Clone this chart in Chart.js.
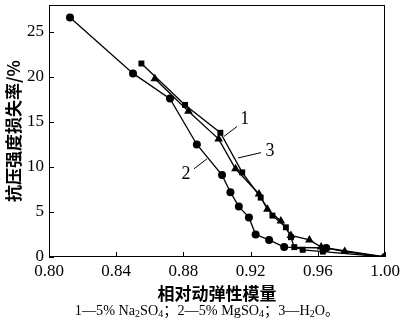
<!DOCTYPE html>
<html>
<head>
<meta charset="utf-8">
<script src="https://cdn.jsdelivr.net/npm/chart.js@4.4.1/dist/chart.umd.min.js"></script>
<style>
  html, body { margin: 0; padding: 0; background: #fff; }
  #wrap { position: relative; width: 400px; height: 327px; }
  #caption {
    position: absolute; left: 7px; top: 299px; width: 400px; text-align: center;
    font-family: "Liberation Serif", "Noto Sans CJK SC", serif; font-size: 14.2px; color: #000;
  }
  #caption sub { font-size: 10px; vertical-align: -2px; line-height: 0; }
</style>
</head>
<body>
<div id="wrap">
  <canvas id="grafico" width="400" height="327"></canvas>
  <div id="caption">1—5% Na<sub>2</sub>SO<sub>4</sub>；2—5% MgSO<sub>4</sub>；3—H<sub>2</sub>O。</div>
</div>
<script>
// datos
const xTicks = [0.80, 0.84, 0.88, 0.92, 0.96, 1.00];
const yTicks = [0, 5, 10, 15, 20, 25];

// 1 - 5% Na2SO4 (cuadrados)
const naX = [0.855, 0.881, 0.902, 0.915, 0.926, 0.933, 0.941, 0.944, 0.946, 0.951, 0.963, 1.000];
const naY = [21.5, 16.9, 13.8, 9.4, 6.6, 4.6, 3.3, 2.2, 1.1, 0.8, 0.6, 0];

// 2 - 5% MgSO4 (circulos)
const mgX = [0.8125, 0.850, 0.872, 0.888, 0.903, 0.908, 0.913, 0.919, 0.923, 0.931, 0.940, 0.965, 1.000];
const mgY = [26.6, 20.4, 17.6, 12.5, 9.1, 7.2, 5.6, 4.4, 2.5, 1.9, 1.1, 1.0, 0];

// 3 - H2O (triangulos)
const aguaX = [0.863, 0.883, 0.901, 0.911, 0.925, 0.930, 0.938, 0.944, 0.955, 0.962, 0.976, 1.000];
const aguaY = [19.8, 16.2, 13.1, 9.8, 7.0, 5.3, 4.0, 2.4, 1.9, 1.1, 0.6, 0];

const puntos = (xs, ys) => xs.map((x, i) => ({ x: x, y: ys[i] }));

// etiquetas 1/2/3 con linea guia (coordenadas en unidades de datos)
const etiquetas = [
    { text: '1', at: [0.9165, 15.3], from: [0.9042, 13.4], to: [0.9119, 14.5] },
    { text: '3', at: [0.9315, 11.8], from: [0.9125, 11.0], to: [0.9262, 11.6] },
    { text: '2', at: [0.8815, 9.2], from: [0.8863, 9.8], to: [0.8940, 10.9] }
];

const serif = '"Liberation Serif", "Times New Roman", serif';
const cjk = '"Noto Sans CJK SC", sans-serif';

const marcoPlugin = {
    id: 'marco',
    afterDraw(chart) {
        const ctx = chart.ctx;
        const a = chart.chartArea;
        const sx = chart.scales.x, sy = chart.scales.y;
        ctx.save();
        ctx.strokeStyle = '#000';
        ctx.lineWidth = 1;
        ctx.strokeRect(a.left + 0.5, a.top + 0.5, a.right - a.left - 1, a.bottom - a.top - 1);
        // marcas hacia adentro
        ctx.beginPath();
        xTicks.forEach(v => {
            const px = Math.round(sx.getPixelForValue(v)) + 0.5;
            ctx.moveTo(px, a.bottom);
            ctx.lineTo(px, a.bottom - 5);
        });
        yTicks.forEach(v => {
            const py = Math.round(sy.getPixelForValue(v)) + 0.5;
            ctx.moveTo(a.left, py);
            ctx.lineTo(a.left + 5, py);
        });
        ctx.stroke();
        // etiquetas de series
        ctx.fillStyle = '#000';
        ctx.font = '18px ' + serif;
        ctx.textAlign = 'center';
        ctx.textBaseline = 'middle';
        etiquetas.forEach(e => {
            ctx.beginPath();
            ctx.moveTo(sx.getPixelForValue(e.from[0]), sy.getPixelForValue(e.from[1]));
            ctx.lineTo(sx.getPixelForValue(e.to[0]), sy.getPixelForValue(e.to[1]));
            ctx.stroke();
            ctx.fillText(e.text, sx.getPixelForValue(e.at[0]), sy.getPixelForValue(e.at[1]));
        });
        ctx.restore();
    }
};

const estiloSerie = (label, data, forma, radio) => ({
    label: label,
    data: data,
    borderColor: '#000',
    backgroundColor: '#000',
    borderWidth: 1.3,
    pointStyle: forma,
    pointRadius: radio,
    pointBorderWidth: 0,
    pointBackgroundColor: '#000',
    tension: 0
});

new Chart(document.getElementById('grafico'), {
    type: 'line',
    data: {
        datasets: [
            estiloSerie('1', puntos(naX, naY), 'rect', 4.2),
            estiloSerie('2', puntos(mgX, mgY), 'circle', 4),
            estiloSerie('3', puntos(aguaX, aguaY), 'triangle', 5)
        ]
    },
    options: {
        responsive: false,
        animation: false,
        layout: { padding: { top: 2, right: 15, bottom: 23, left: 3 } },
        plugins: { legend: { display: false }, tooltip: { enabled: false } },
        scales: {
            x: {
                type: 'linear',
                min: 0.80,
                max: 1.00,
                afterBuildTicks: s => { s.ticks = xTicks.map(v => ({ value: v })); },
                afterFit: s => { s.height = 47; s.paddingLeft = 0; s.paddingRight = 0; },
                grid: { display: false, drawTicks: false },
                border: { display: false },
                ticks: {
                    padding: 4,
                    color: '#000',
                    font: { family: serif, size: 17 },
                    callback: v => Number(v).toFixed(2),
                    maxRotation: 0
                },
                title: {
                    display: true,
                    text: '相对动弹性模量',
                    color: '#000',
                    font: { family: cjk, size: 17, weight: 'bold' },
                    padding: { top: 0, bottom: 0 }
                }
            },
            y: {
                type: 'linear',
                min: 0,
                max: 28,
                afterBuildTicks: s => { s.ticks = yTicks.map(v => ({ value: v })); },
                afterFit: s => { s.width = 46; s.paddingTop = 0; s.paddingBottom = 0; },
                grid: { display: false, drawTicks: false },
                border: { display: false },
                ticks: {
                    padding: 5,
                    color: '#000',
                    font: { family: serif, size: 17 }
                },
                title: {
                    display: true,
                    text: '抗压强度损失率/%',
                    color: '#000',
                    font: { family: cjk, size: 17, weight: 'bold' },
                    padding: { top: 0, bottom: 0 }
                }
            }
        }
    },
    plugins: [marcoPlugin]
});
</script>
</body>
</html>
